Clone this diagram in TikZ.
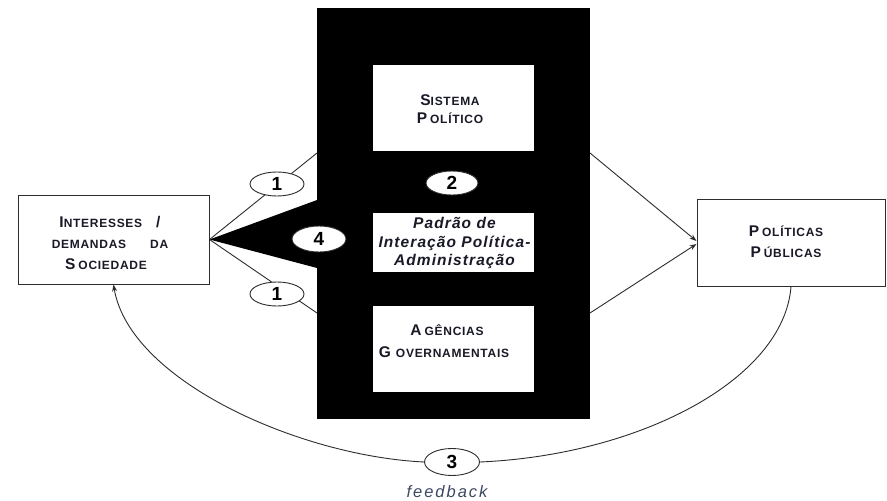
\documentclass[tikz,border=0pt]{standalone}
\usepackage{fontspec}
\setmainfont{Liberation Sans}
\usetikzlibrary{shapes.geometric,arrows.meta}
\definecolor{txt}{RGB}{25,25,40}
\definecolor{fbc}{RGB}{60,72,98}
\definecolor{ln}{RGB}{45,45,45}
\newcommand{\Cap}[1]{{\fontsize{15.5}{21}\selectfont #1}}
\newcommand{\Sm}[1]{{\fontsize{12}{21}\selectfont\addfontfeature{LetterSpace=6}#1}}
\begin{document}
\begin{tikzpicture}[x=1pt,y=-1pt,
  box/.style={draw=ln, line width=1pt, fill=white, inner sep=0pt},
  inbox/.style={fill=white, inner sep=0pt, minimum width=161pt},
  num/.style={ellipse, draw=ln, line width=0.9pt, fill=white, minimum width=54pt, minimum height=24pt, inner sep=0pt, font=\bfseries\fontsize{19}{19}\selectfont, text=black},
  conn/.style={draw=ln, line width=0.9pt},
  tip/.style={-{Stealth[length=7pt,width=5pt]}},
  lbl/.style={align=center, font=\bfseries\fontsize{15.5}{21}\selectfont, text=txt, inner sep=0pt}
]
\useasboundingbox (0,0) rectangle (887,501);
\fill[white] (0,0) rectangle (887,501);

% left and right boxes
\node[box, minimum width=191pt, minimum height=89pt] (is) at (113.5,239.5) {};
\node[box, minimum width=188pt, minimum height=87pt] (pp) at (791,242.5) {};

% black block
\node[fill=black, minimum width=273pt, minimum height=411pt, inner sep=0pt] (blk) at (453.5,213.5) {};
\coordinate (w1) at (317,200);
\coordinate (w2) at (317,268);
\coordinate (l1) at (317,153);
\coordinate (l2) at (317,313);
\coordinate (r1) at (590,153);
\coordinate (r2) at (590,313);

% wedge
\fill[black] (is.east) -- (w1) -- (w2) -- cycle;

% connectors
\draw[conn] (is.east) -- (l1);
\draw[conn] (is.east) -- (l2);
\draw[conn, tip] (r1) -- ([yshift=1.5pt]pp.west);
\draw[conn, tip] (r2) -- ([yshift=-1.5pt]pp.west);

% inner boxes
\node[inbox, minimum height=86pt] (sp) at (453.5,108) {};
\node[inbox, minimum height=59pt] (pa) at (453.5,242.5) {};
\node[inbox, minimum height=86pt] (ag) at (453.5,349) {};

% texts
\node[lbl] (is-t) at (110,243) {\Cap{I}\Sm{NTERESSES}\hspace{14pt}/\\
  \Sm{DEMANDAS}\hspace{24pt}\Sm{DA}\\
  \hspace{-8pt}\Cap{S}\hspace{3pt}\Sm{OCIEDADE}};
\node[lbl, font=\bfseries\fontsize{15.5}{18}\selectfont] (sp-t) at (450,109) {\Cap{S}\Sm{ISTEMA}\\ \Cap{P}\hspace{3pt}\Sm{OLÍTICO}};
\node[lbl, font=\bfseries\itshape\fontsize{15.5}{18.5}\selectfont\addfontfeature{LetterSpace=7}] (pa-t) at (454.5,243) {Padrão de\\ Interação Política-\\ Administração};
\node[lbl, font=\bfseries\fontsize{15.5}{22}\selectfont] (ag-t) at (444,341) {\hspace{6pt}\Cap{A}\hspace{3pt}\Sm{GÊNCIAS}\\ \Cap{G}\hspace{5pt}\addfontfeature{LetterSpace=2}\Sm{OVERNAMENTAIS}};
\node[lbl] (pp-t) at (786,242) {\Cap{P}\hspace{3pt}\Sm{OLÍTICAS}\\ \Cap{P}\hspace{3pt}\Sm{ÚBLICAS}};

% number ellipses
\node[num] (e1a) at (277,184) {1};
\node[num] (e1b) at (277,294) {1};
\node[num, minimum height=26pt] (e4) at (319,239) {4};
\node[num, minimum width=52pt] (e2) at (452,183) {2};
\node[num, minimum width=55pt, minimum height=27pt] (e3) at (452,462) {3};

% feedback loop
\draw[conn] (pp.south) .. controls +(-7,93) and +(160,-7) .. (e3.east);
\draw[conn, tip] (e3.west) .. controls +(-125,-6) and +(16,96) .. (is.south);
\node[font=\itshape\fontsize{16.5}{16}\selectfont\addfontfeature{LetterSpace=12}, text=fbc, anchor=base, inner sep=0pt] (fb) at (447,497) {feedback};
\end{tikzpicture}
\end{document}
